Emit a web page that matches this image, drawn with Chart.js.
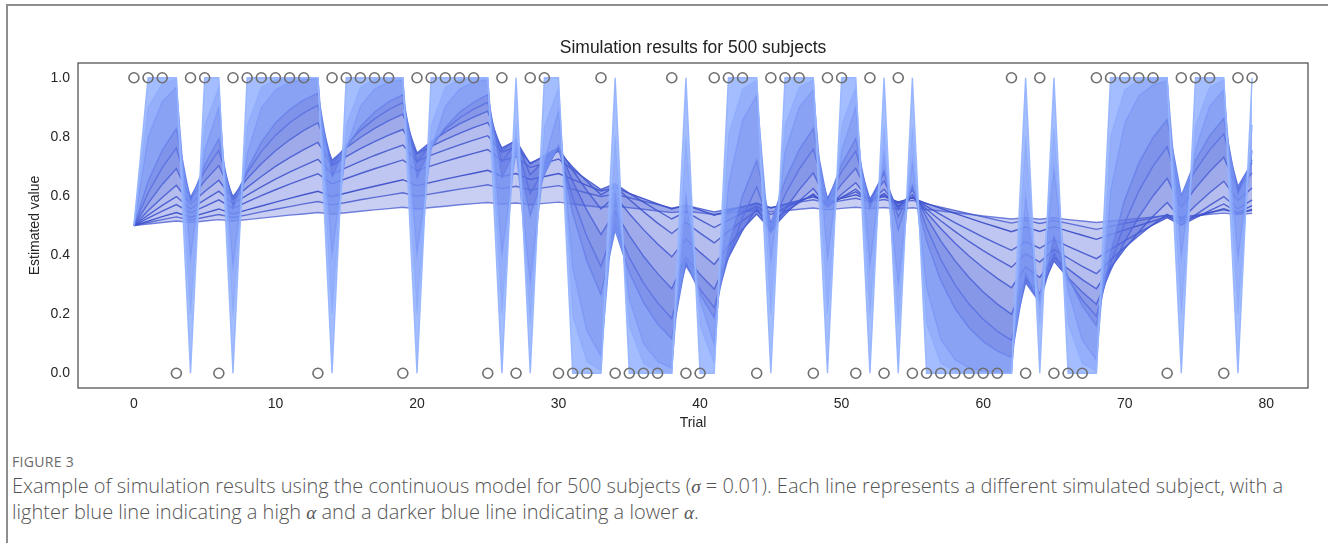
<!DOCTYPE html>
<html>
<head>
<meta charset="utf-8">
<script src="https://cdn.jsdelivr.net/npm/chart.js@4.4.1/dist/chart.umd.min.js"></script>
<style>
  html, body { margin: 0; padding: 0; background: #fff; }
  body { width: 1328px; height: 543px; position: relative; overflow: hidden; }
  .frame { position: absolute; left: 6px; top: 4px; width: 1340px; height: 560px;
           border-top: 2px solid #8e8e8e; border-left: 2px solid #8e8e8e; }
  #wrap { position: absolute; left: 0; top: 0; width: 1328px; height: 435px; }
  .fig { position: absolute; left: 12px; top: 452px; font-family: "Open Sans", "Noto Sans", sans-serif;
         font-size: 14px; color: #6a6a6a; letter-spacing: 0.3px; }
  .cap { position: absolute; left: 12px; top: 473px; width: 1316px; white-space: nowrap;
         font-family: "Open Sans", "Noto Sans", sans-serif;
         font-size: 20px; line-height: 25px; color: #555; font-weight: 300; }
  .cap i { font-family: "Liberation Serif", "DejaVu Serif", serif; font-size: 19px; font-weight: normal; }
</style>
</head>
<body>
<div class="frame"></div>
<div id="wrap"><canvas id="chart" width="1328" height="435"></canvas></div>
<div class="fig">FIGURE 3</div>
<div class="cap">Example of simulation results using the continuous model for 500 subjects (<i>σ</i> = 0.01). Each line represents a different simulated subject, with a<br>lighter blue line indicating a high <i>α</i> and a darker blue line indicating a lower <i>α</i>.</div>

<script>
// trial index and the outcome drawn at each trial (circles at 0 / 1)
const trials = Array.from({ length: 80 }, (_, i) => i);
const outcomes = [1,1,1,0,1,1,0,1,1,1, 1,1,1,0,1,1,1,1,1,0, 1,1,1,1,1,0,1,0,1,1, 0,0,0,1,0,0,0,0,1,0,
                  0,1,1,1,0,1,1,1,0,1, 1,0,1,0,1,0,0,0,0,0, 0,0,1,0,1,0,0,0,1,1, 1,1,1,0,1,1,1,0,1,1];

// estimated value per trial for a handful of subjects, high alpha (light) -> low alpha (dark)
const estA99 = [0.5,1,1,1,0,1,1,0,1,1, 1,1,1,1,0,1,1,1,1,1, 0,1,1,1,1,1,0,1,0,1, 1,0,0,0,1,0,0,0,0,1,
                0,0,1,1,1,0,1,1,1,0, 1,1,0,1,0,1,0,0,0,0, 0,0,0,1,0,1,0,0,0,1, 1,1,1,1,0,1,1,1,0,1];
const estA80 = [.5,.9,.98,.996,.199,.84,.968,.194,.839,.968, .994,.999,1,1,.2,.84,.968,.994,.999,1,
                .2,.84,.968,.994,.999,1,.2,.84,.168,.834, .967,.193,.039,.008,.802,.16,.032,.006,.001,.8,
                .16,.032,.806,.961,.992,.198,.84,.968,.994,.199, .84,.968,.194,.839,.168,.834,.167,.033,.007,.001,
                0,0,0,.8,.16,.832,.166,.033,.007,.801, .96,.992,.998,1,.2,.84,.968,.994,.199,.84];
const estA60 = [.5,.8,.92,.968,.387,.755,.902,.361,.744,.898, .959,.984,.994,.998,.399,.76,.904,.962,.985,.994,
                .398,.759,.904,.962,.985,.994,.398,.759,.304,.721, .889,.355,.142,.057,.623,.249,.1,.04,.016,.606,
                .243,.097,.639,.856,.942,.377,.751,.9,.96,.384, .754,.902,.361,.744,.298,.719,.288,.115,.046,.018,
                .007,.003,.001,.6,.24,.696,.278,.111,.044,.618, .847,.939,.976,.99,.396,.758,.903,.961,.385,.754];
const estA30 = [.5,.65,.755,.829,.58,.706,.794,.556,.689,.782, .848,.893,.925,.948,.663,.764,.835,.884,.919,.943,
                .66,.762,.833,.883,.918,.943,.66,.762,.533,.673, .771,.54,.378,.265,.485,.34,.238,.166,.116,.381,
                .267,.187,.431,.602,.721,.505,.653,.757,.83,.581, .707,.795,.556,.69,.483,.638,.447,.313,.219,.153,
                .107,.075,.053,.337,.236,.465,.326,.228,.16,.412, .588,.712,.798,.859,.601,.721,.805,.863,.604,.723];
const estA22 = [.5,.61,.696,.763,.595,.684,.754,.588,.679,.75, .805,.848,.881,.907,.707,.772,.822,.861,.892,.916,
                .714,.777,.826,.864,.894,.917,.716,.778,.607,.693, .761,.593,.463,.361,.501,.391,.305,.238,.185,.365,
                .284,.222,.393,.527,.631,.492,.604,.691,.759,.592, .682,.752,.587,.678,.529,.632,.493,.385,.3,.234,
                .183,.142,.111,.307,.239,.407,.317,.248,.193,.371, .509,.617,.701,.767,.598,.687,.756,.81,.632,.713];
const estA15 = [.5,.575,.639,.693,.589,.651,.703,.598,.658,.709, .753,.79,.822,.848,.721,.763,.798,.829,.855,.877,
                .745,.784,.816,.844,.867,.887,.754,.791,.672,.721, .763,.649,.551,.469,.548,.466,.396,.337,.286,.393,
                .334,.284,.391,.483,.56,.476,.555,.621,.678,.576, .64,.694,.59,.651,.553,.62,.527,.448,.381,.324,
                .275,.234,.199,.319,.271,.38,.323,.275,.233,.348, .446,.529,.6,.66,.561,.627,.683,.731,.621,.678];
const estA10 = [.5,.55,.595,.636,.572,.615,.653,.588,.629,.666, .7,.73,.757,.781,.703,.733,.76,.784,.806,.825,
                .743,.768,.791,.812,.831,.848,.763,.787,.708,.737, .763,.687,.618,.556,.6,.54,.486,.437,.394,.454,
                .409,.368,.431,.488,.539,.485,.537,.583,.625,.562, .606,.645,.581,.623,.561,.605,.544,.49,.441,.397,
                .357,.321,.289,.36,.324,.392,.353,.317,.286,.357, .421,.479,.531,.578,.52,.568,.611,.65,.585,.627];
const estA07 = [.5,.535,.568,.598,.556,.587,.616,.573,.603,.631, .657,.681,.703,.724,.673,.696,.717,.737,.755,.772,
                .718,.738,.756,.773,.789,.804,.748,.766,.712,.732, .751,.698,.649,.604,.632,.588,.547,.508,.473,.51,
                .474,.441,.48,.516,.55,.511,.546,.577,.607,.564, .595,.623,.58,.609,.566,.597,.555,.516,.48,.446,
                .415,.386,.359,.404,.376,.419,.39,.362,.337,.383, .426,.466,.504,.538,.501,.536,.568,.598,.556,.587];
const estA05 = [.5,.525,.549,.571,.543,.565,.587,.558,.58,.601, .621,.64,.658,.675,.641,.659,.676,.692,.707,.722,
                .686,.702,.717,.731,.744,.757,.719,.733,.696,.711, .725,.689,.655,.622,.641,.609,.579,.55,.522,.546,
                .519,.493,.518,.542,.565,.537,.56,.582,.603,.573, .594,.614,.583,.604,.574,.595,.565,.537,.51,.485,
                .461,.438,.416,.445,.423,.452,.429,.408,.388,.419, .448,.476,.502,.527,.501,.526,.55,.573,.544,.567];
const estA03 = [.5,.515,.53,.544,.528,.542,.556,.539,.553,.566, .579,.592,.604,.616,.598,.61,.622,.633,.644,.655,
                .635,.646,.657,.667,.677,.687,.666,.676,.656,.666, .676,.656,.636,.617,.628,.609,.591,.573,.556,.569,
                .552,.535,.549,.563,.576,.559,.572,.585,.597,.579, .592,.604,.586,.598,.58,.593,.575,.558,.541,.525,
                .509,.494,.479,.495,.48,.496,.481,.467,.453,.469, .485,.5,.515,.53,.514,.529,.543,.557,.54,.554];
const estA02 = [.5,.51,.52,.529,.518,.528,.537,.527,.536,.546, .555,.564,.573,.581,.57,.578,.587,.595,.603,.611,
                .599,.607,.615,.623,.63,.638,.625,.633,.62,.628, .635,.623,.61,.598,.606,.594,.582,.571,.559,.568,
                .557,.546,.555,.564,.573,.561,.57,.579,.587,.575, .584,.592,.58,.588,.577,.585,.573,.562,.551,.54,
                .529,.518,.508,.518,.507,.517,.507,.497,.487,.497, .507,.517,.526,.536,.525,.535,.544,.553,.542,.551];
const estA01 = [.5,.505,.51,.515,.51,.515,.52,.515,.52,.525, .53,.535,.539,.544,.539,.543,.548,.553,.557,.562,
                .556,.561,.565,.57,.574,.578,.572,.576,.57,.575, .579,.573,.567,.562,.566,.56,.555,.549,.544,.548,
                .543,.537,.542,.547,.551,.546,.55,.555,.559,.553, .558,.562,.557,.561,.555,.56,.554,.549,.543,.538,
                .532,.527,.522,.526,.521,.526,.52,.515,.51,.515, .519,.524,.529,.534,.528,.533,.538,.542,.537,.541];

const xTicks = [0, 10, 20, 30, 40, 50, 60, 70, 80];
const yTicks = [0, 0.2, 0.4, 0.6, 0.8, 1.0];

// light -> dark, each band filled down to the next subject
const subjects = [
  { data: estA99, line: 'rgba(150,180,255,0.95)', fill: 'rgba(150,180,255,0.88)' },
  { data: estA80, line: 'rgba(138,168,252,0.9)',  fill: 'rgba(134,164,250,0.88)' },
  { data: estA60, line: 'rgba(118,148,244,0.9)',  fill: 'rgba(114,144,242,0.84)' },
  { data: estA30, line: 'rgba(96,122,230,0.9)',   fill: 'rgba(92,117,228,0.78)' },
  { data: estA22, line: 'rgba(86,110,224,0.9)',   fill: 'rgba(84,107,222,0.7)' },
  { data: estA15, line: 'rgba(74,96,214,0.9)',    fill: 'rgba(78,100,217,0.55)' },
  { data: estA10, line: 'rgba(68,88,208,0.9)',    fill: 'rgba(76,97,215,0.42)' },
  { data: estA07, line: 'rgba(66,85,205,0.9)',    fill: 'rgba(76,97,215,0.38)' },
  { data: estA05, line: 'rgba(64,82,203,0.9)',    fill: 'rgba(76,97,215,0.36)' },
  { data: estA03, line: 'rgba(60,78,199,0.95)',   fill: 'rgba(76,97,215,0.34)' },
  { data: estA02, line: 'rgba(72,90,207,0.85)',   fill: 'rgba(76,97,215,0.3)' },
  { data: estA01, line: 'rgba(82,100,213,0.8)',   fill: false },
];

const toPoints = vals => vals.map((v, i) => ({ x: trials[i], y: v }));

const datasets = [{
  type: 'scatter',
  data: toPoints(outcomes),
  pointRadius: 5,
  pointBorderWidth: 1.6,
  pointBorderColor: '#6e6e6e',
  pointBackgroundColor: 'rgba(0,0,0,0)',
  order: 0,
}];

subjects.forEach(s => {
  datasets.push({
    type: 'line',
    data: toPoints(s.data),
    borderColor: s.line,
    borderWidth: 1.4,
    backgroundColor: s.fill || 'rgba(0,0,0,0)',
    fill: s.fill ? '+1' : false,
    pointRadius: 0,
    tension: 0,
    order: 1,
  });
});

// axes box like matplotlib
const frameBox = {
  id: 'frameBox',
  afterDraw(chart) {
    const { ctx, chartArea: a } = chart;
    ctx.save();
    ctx.strokeStyle = '#555';
    ctx.lineWidth = 1.3;
    ctx.strokeRect(a.left, a.top, a.right - a.left, a.bottom - a.top);
    ctx.restore();
  }
};

const font = { family: '"Liberation Sans", Arial, sans-serif', size: 14 };

new Chart(document.getElementById('chart'), {
  data: { datasets },
  plugins: [frameBox],
  options: {
    responsive: false,
    animation: false,
    layout: { padding: { left: 0, right: 20, top: 0, bottom: 0 } },
    plugins: {
      legend: { display: false },
      tooltip: { enabled: false },
      title: {
        display: true,
        text: 'Simulation results for 500 subjects',
        fullSize: false,
        color: '#222',
        font: { family: font.family, size: 17.5, weight: 'normal' },
        padding: { top: 38, bottom: 4 },
      },
    },
    scales: {
      x: {
        type: 'linear',
        min: -3.95,
        max: 82.95,
        grid: { display: false, drawTicks: false },
        border: { display: false },
        afterBuildTicks: s => { s.ticks = xTicks.map(v => ({ value: v })); },
        afterFit: s => { s.height = 47; },
        ticks: { color: '#262626', font, padding: 8 },
        title: { display: true, text: 'Trial', color: '#262626', font, padding: { top: 0, bottom: 3 } },
      },
      y: {
        min: -0.05,
        max: 1.05,
        grid: { display: false, drawTicks: false },
        border: { display: false },
        afterBuildTicks: s => { s.ticks = yTicks.map(v => ({ value: v })); },
        afterFit: s => { s.width = 78; },
        ticks: { color: '#262626', font, padding: 8, callback: v => v.toFixed(1) },
        title: { display: true, text: 'Estimated value', color: '#262626', font, padding: { top: 27, bottom: 0 } },
      },
    },
  },
});
</script>
</body>
</html>
